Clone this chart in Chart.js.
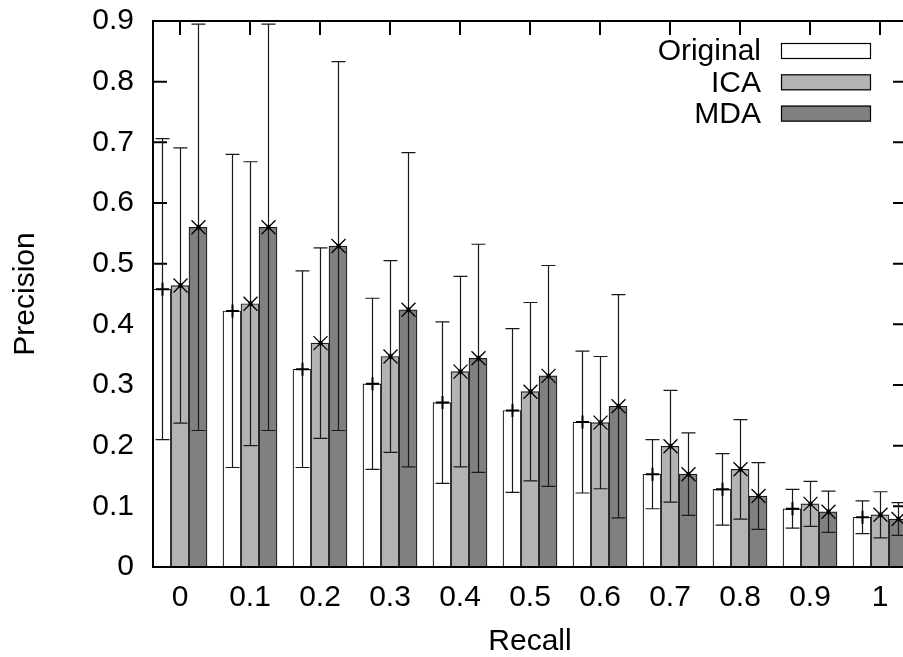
<!DOCTYPE html>
<html>
<head>
<meta charset="utf-8">
<script src="https://cdn.jsdelivr.net/npm/chart.js@4.4.1/dist/chart.umd.min.js"></script>
<style>
  html, body { margin: 0; padding: 0; background: #fff; overflow: hidden; }
  canvas { display: block; }
</style>
</head>
<body>
<canvas id="precisionChart" width="910" height="657"></canvas>
<script>
// recall levels (x) and tick labels
const recall = [0, 0.1, 0.2, 0.3, 0.4, 0.5, 0.6, 0.7, 0.8, 0.9, 1];
const yTicks = [0, 0.1, 0.2, 0.3, 0.4, 0.5, 0.6, 0.7, 0.8, 0.9];

// mean precision and error (half length of the error bar)
const originalMean = [0.458, 0.422, 0.326, 0.302, 0.271, 0.258, 0.239, 0.153, 0.128, 0.096, 0.082];
const originalErr  = [0.248, 0.258, 0.162, 0.141, 0.133, 0.135, 0.117, 0.057, 0.059, 0.032, 0.027];
const icaMean      = [0.464, 0.434, 0.369, 0.347, 0.322, 0.289, 0.238, 0.199, 0.161, 0.104, 0.086];
const icaErr       = [0.227, 0.234, 0.157, 0.158, 0.157, 0.147, 0.109, 0.092, 0.082, 0.037, 0.038];
const mdaMean      = [0.560, 0.560, 0.529, 0.424, 0.344, 0.315, 0.265, 0.153, 0.117, 0.091, 0.079];
const mdaErr       = [0.335, 0.335, 0.304, 0.259, 0.188, 0.182, 0.184, 0.068, 0.055, 0.034, 0.027];

const seriesNames = ['Original', 'ICA', 'MDA'];
const errors = [originalErr, icaErr, mdaErr];
const markers = ['plus', 'cross', 'cross'];
const fills = ['#ffffff', '#b3b3b3', '#808080'];

const FONT = "'Liberation Sans', Arial, Helvetica, sans-serif";

function toPoints(values) {
    return values.map((v, i) => ({ x: recall[i], y: v }));
}

// gnuplot style frame, inward tics, error bars, point markers and legend
const gnuplotLook = {
    id: 'gnuplotLook',
    beforeDatasetsDraw(chart) {
        const ctx = chart.ctx;
        const a = chart.chartArea;
        const xs = chart.scales.x, ys = chart.scales.y;
        ctx.save();
        ctx.strokeStyle = '#000';
        ctx.lineWidth = 2;
        ctx.beginPath();
        ys.ticks.forEach(t => {
            const y = ys.getPixelForValue(t.value);
            ctx.moveTo(a.left, y); ctx.lineTo(a.left + 14, y);
            ctx.moveTo(a.right, y); ctx.lineTo(a.right - 14, y);
        });
        xs.ticks.forEach(t => {
            const x = xs.getPixelForValue(t.value);
            ctx.moveTo(x, a.top); ctx.lineTo(x, a.top + 14);
            ctx.moveTo(x, a.bottom); ctx.lineTo(x, a.bottom - 14);
        });
        ctx.stroke();
        ctx.restore();
    },
    afterDatasetsDraw(chart) {
        const ctx = chart.ctx;
        const a = chart.chartArea;
        const ys = chart.scales.y;
        ctx.save();
        chart.data.datasets.forEach((ds, d) => {
            const meta = chart.getDatasetMeta(d);
            meta.data.forEach((bar, i) => {
                const mean = ds.data[i].y;
                const err = errors[d][i];
                const x = Math.round(bar.x) + 0.5;
                const yTop = ys.getPixelForValue(mean + err);
                const yBot = ys.getPixelForValue(mean - err);
                const yMid = ys.getPixelForValue(mean);
                ctx.strokeStyle = '#1a1a1a';
                ctx.lineWidth = 1.2;
                ctx.beginPath();
                ctx.moveTo(x, yTop); ctx.lineTo(x, yBot);
                ctx.moveTo(x - 7, yTop); ctx.lineTo(x + 7, yTop);
                ctx.moveTo(x - 7, yBot); ctx.lineTo(x + 7, yBot);
                ctx.stroke();
                ctx.strokeStyle = '#000';
                ctx.beginPath();
                if (markers[d] === 'plus') {
                    ctx.lineWidth = 2;
                    ctx.moveTo(x - 6.5, yMid); ctx.lineTo(x + 6.5, yMid);
                    ctx.moveTo(x, yMid - 6.5); ctx.lineTo(x, yMid + 6.5);
                } else {
                    ctx.lineWidth = 1.3;
                    ctx.moveTo(x - 7, yMid - 7); ctx.lineTo(x + 7, yMid + 7);
                    ctx.moveTo(x - 7, yMid + 7); ctx.lineTo(x + 7, yMid - 7);
                    ctx.moveTo(x, yMid - 3); ctx.lineTo(x, yMid + 3);
                }
                ctx.stroke();
                if (markers[d] !== 'plus') {
                    ctx.fillStyle = '#000';
                    ctx.fillRect(x - 2, yMid - 2, 4, 4);
                }
            });
        });

        // frame
        ctx.strokeStyle = '#000';
        ctx.lineWidth = 2;
        ctx.strokeRect(a.left, a.top, a.right - a.left, a.bottom - a.top);

        // legend: text right aligned, sample box on the right
        ctx.font = '30px ' + FONT;
        ctx.textAlign = 'right';
        ctx.textBaseline = 'middle';
        seriesNames.forEach((name, k) => {
            const cy = 51 + k * 31.3;
            ctx.fillStyle = '#000';
            ctx.fillText(name, 761, cy + 1);
            ctx.fillStyle = fills[k];
            ctx.fillRect(781, cy - 8, 90, 16);
            ctx.strokeStyle = '#000';
            ctx.lineWidth = 1.2;
            ctx.strokeRect(781.5, cy - 7.5, 89, 15);
        });
        ctx.restore();
    }
};

const datasets = [originalMean, icaMean, mdaMean].map((vals, k) => ({
    label: seriesNames[k],
    data: toPoints(vals),
    backgroundColor: fills[k],
    borderColor: '#1a1a1a',
    borderWidth: 1.2,
    borderSkipped: false,
    barThickness: 18
}));

new Chart(document.getElementById('precisionChart'), {
    type: 'bar',
    data: { datasets: datasets },
    options: {
        responsive: false,
        animation: false,
        devicePixelRatio: 1,
        layout: { padding: { top: 21, right: 3, left: 0, bottom: 0 } },
        plugins: {
            legend: { display: false },
            tooltip: { enabled: false }
        },
        scales: {
            x: {
                type: 'linear',
                offset: false,
                min: -0.038571,
                max: 1.038571,
                grid: { display: false, offset: false, drawTicks: false },
                border: { display: false },
                afterBuildTicks: s => { s.ticks = recall.map(v => ({ value: v })); },
                afterFit: s => { s.height = 90; s.paddingLeft = 0; s.paddingRight = 0; },
                ticks: {
                    color: '#000',
                    padding: 16,
                    maxRotation: 0,
                    autoSkip: false,
                    font: { family: FONT, size: 30, lineHeight: 1 },
                    callback: v => String(v)
                },
                title: {
                    display: true,
                    text: 'Recall',
                    color: '#000',
                    padding: 0,
                    font: { family: FONT, size: 30, lineHeight: 1 }
                }
            },
            y: {
                min: 0,
                max: 0.9,
                grid: { display: false, drawTicks: false },
                border: { display: false },
                afterBuildTicks: s => { s.ticks = yTicks.map(v => ({ value: v })); },
                afterFit: s => { s.width = 153; s.paddingTop = 0; s.paddingBottom = 0; },
                ticks: {
                    color: '#000',
                    padding: 19,
                    font: { family: FONT, size: 30, lineHeight: 1 },
                    callback: v => String(v)
                },
                title: {
                    display: true,
                    text: 'Precision',
                    color: '#000',
                    padding: { top: 11, bottom: 0 },
                    font: { family: FONT, size: 30, lineHeight: 1 }
                }
            }
        }
    },
    plugins: [gnuplotLook]
});
</script>
</body>
</html>
